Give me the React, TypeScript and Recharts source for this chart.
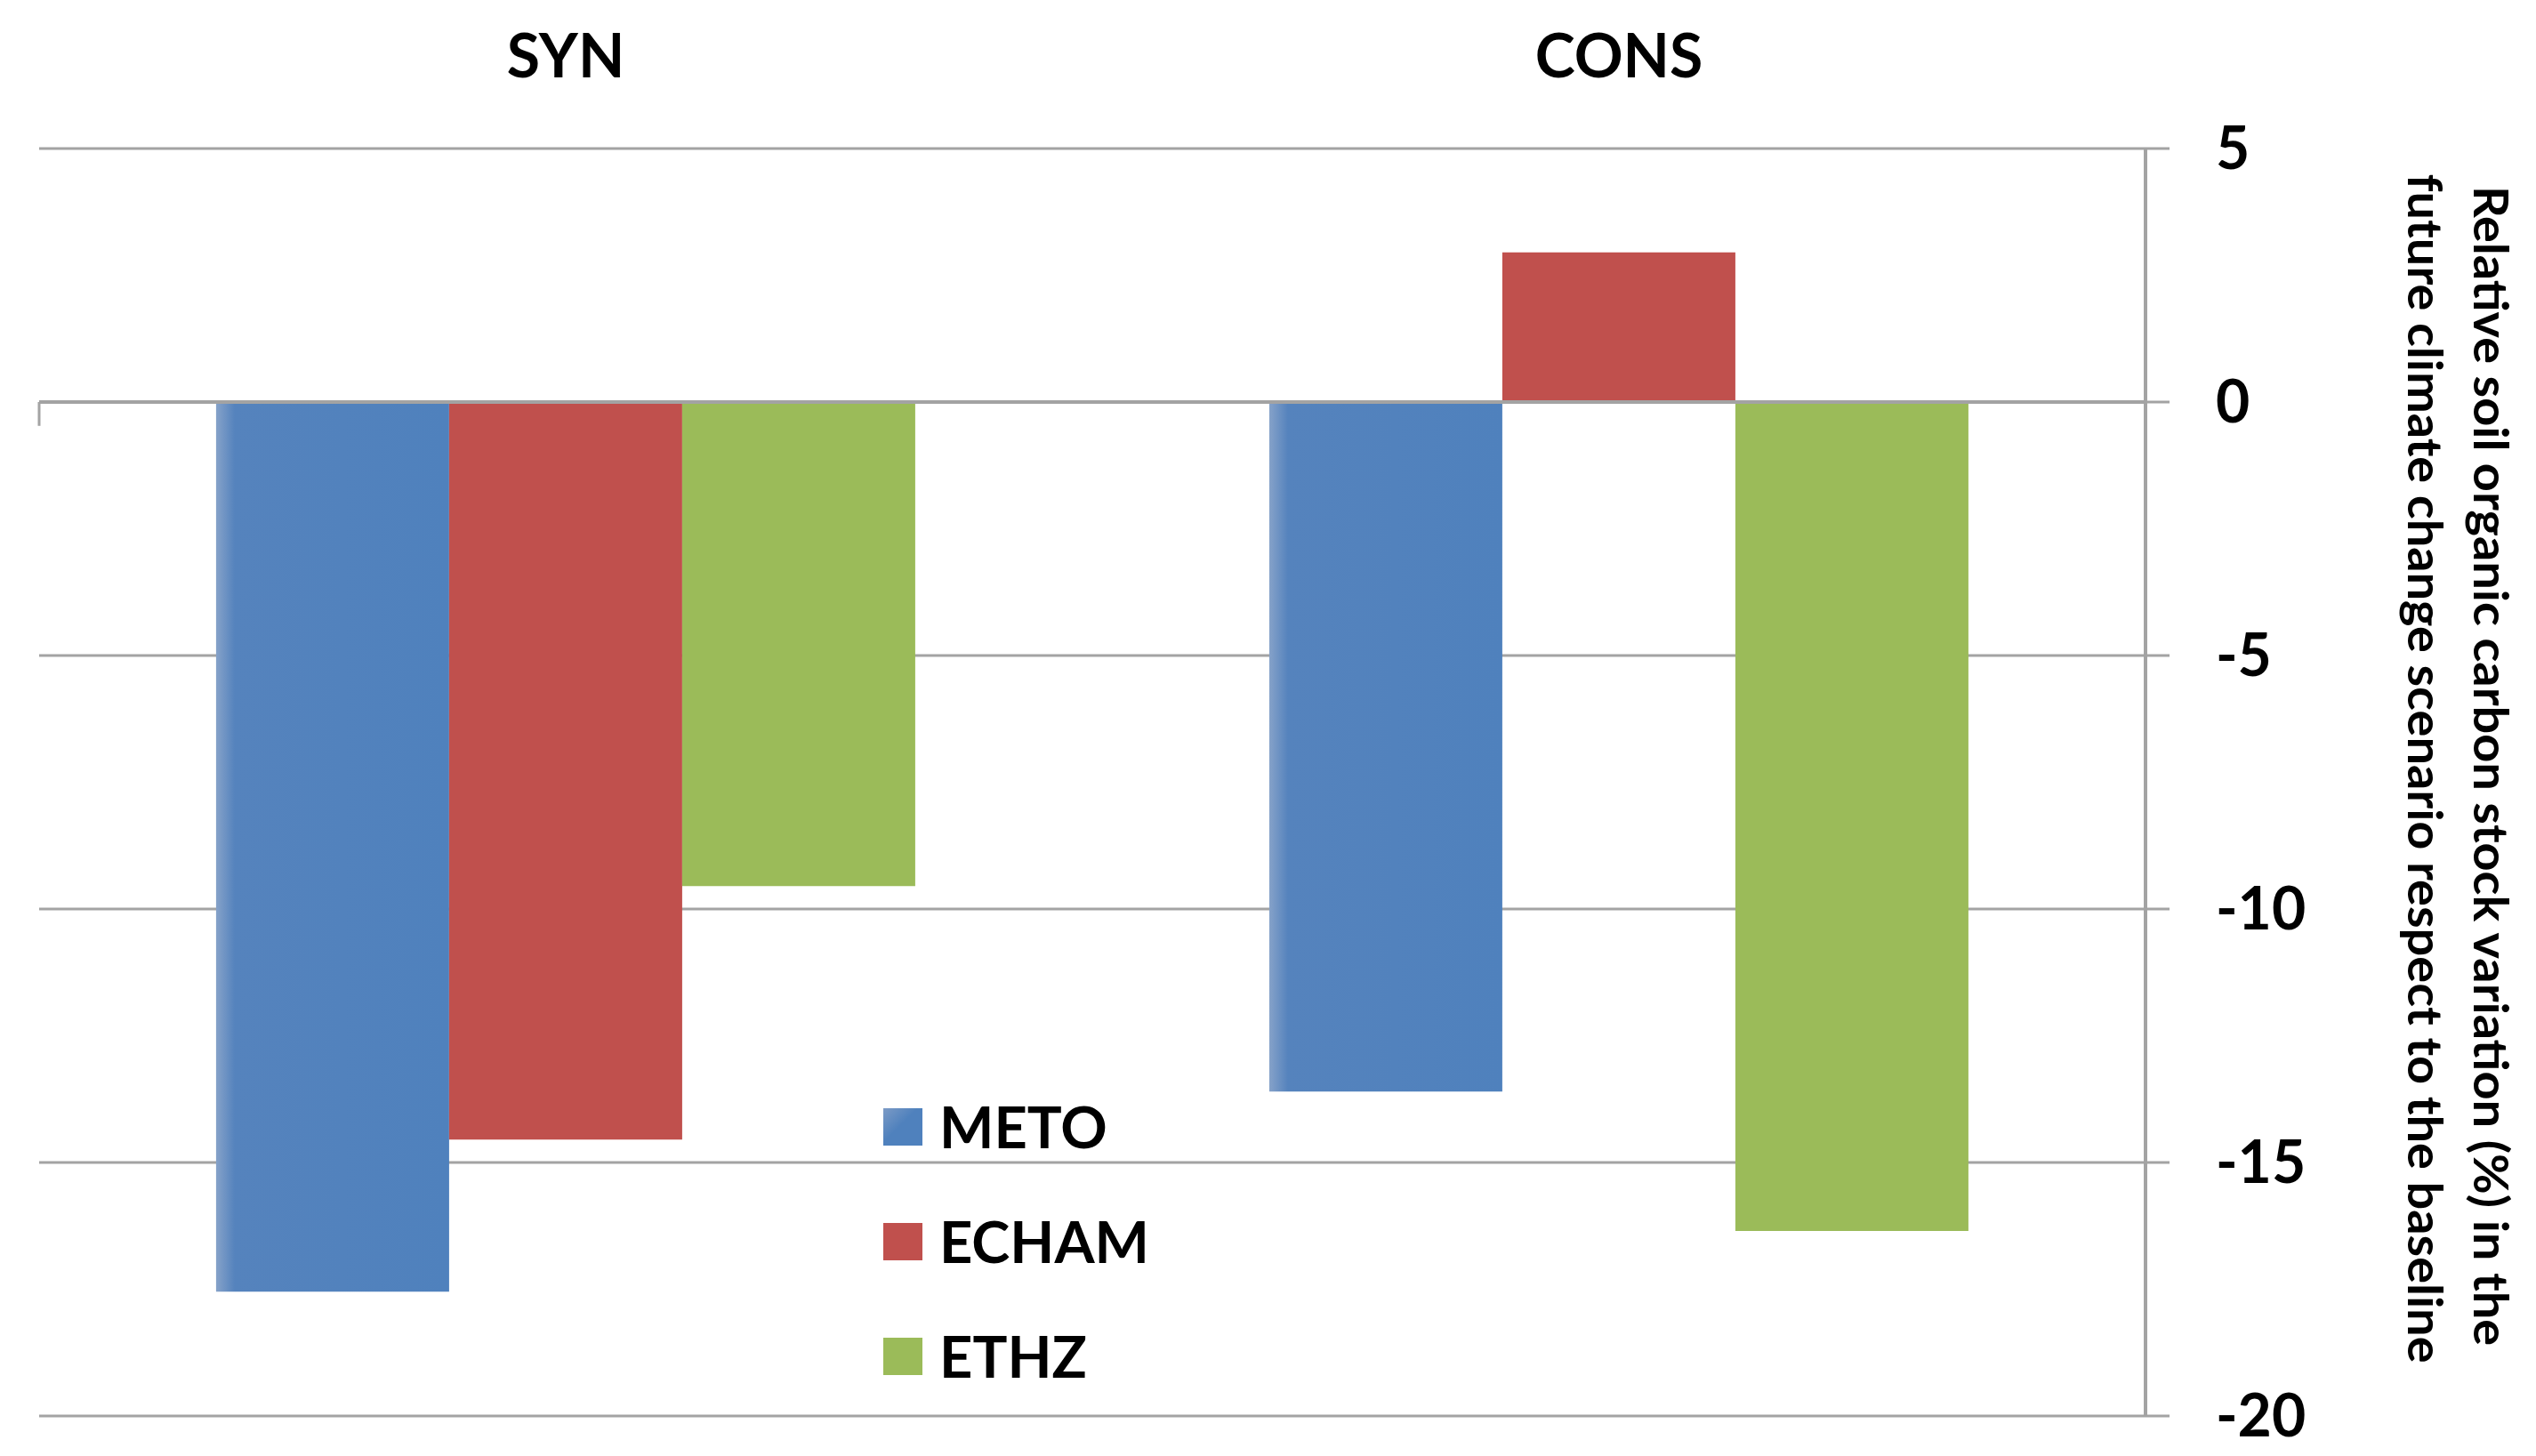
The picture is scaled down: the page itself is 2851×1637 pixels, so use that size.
import React from 'react';
import { BarChart, Bar, XAxis, YAxis, CartesianGrid, ReferenceLine, Legend } from 'recharts';

const categories = ['SYN', 'CONS'];
const seriesNames = ['METO', 'ECHAM', 'ETHZ'];
const seriesColors = ['#4F81BD', '#C0504D', '#9BBB59'];
const metoValues = [-17.55, -13.6];
const echamValues = [-14.55, 2.95];
const ethzValues = [-9.55, -16.35];
const yTicks = [5, 0, -5, -10, -15, -20];
const yDomain = [-20, 5];
const titleLines = [
  'Relative soil organic carbon stock variation (%) in the',
  'future climate change scenario respect to the baseline',
];

const data = categories.map((c, i) => ({
  name: c,
  METO: metoValues[i],
  ECHAM: echamValues[i],
  ETHZ: ethzValues[i],
}));

const W = 2851;
const H = 1637;
const GRID = '#a3a3a3';
const FONT = 'Lato, "Open Sans", sans-serif';
const CAT_TICK_DEPTH = 0.47; // in value units, category separator ticks below zero line

const XTick = (props: any) => {
  const { x, y, payload } = props;
  return (
    <text x={x} y={y - 80} textAnchor="middle" fontSize={68} fontWeight={700} fill="#000" fontFamily={FONT}>
      {payload.value}
    </text>
  );
};

const LegendContent = () => (
  <div style={{ fontFamily: FONT }}>
    {seriesNames.map((n, i) => (
      <div key={n} style={{ display: 'flex', alignItems: 'center', height: 129 }}>
        <div style={{ width: 44, height: 42, background: i === 0 ? 'linear-gradient(135deg, #7c9bc6 0%, #4F81BD 45%)' : seriesColors[i] }} />
        <span style={{ marginLeft: 19, fontSize: 65, fontWeight: 700, color: '#000', lineHeight: 1 }}>{n}</span>
      </div>
    ))}
  </div>
);

export default function App() {
  return (
    <div style={{ position: 'absolute', left: 0, top: 0, width: W, height: H, overflow: 'hidden', background: '#fff', fontFamily: FONT }}>
      <BarChart
        width={W}
        height={H}
        data={data}
        margin={{ top: 0, right: 0, bottom: 45, left: 44 }}
        barCategoryGap="16.8%"
        barGap={0}
      >
        <defs>
          <linearGradient id="metoGrad" x1="0" y1="0" x2="1" y2="0">
            <stop offset="0%" stopColor="#86a2c9" />
            <stop offset="8%" stopColor="#5583bd" />
            <stop offset="100%" stopColor="#4F81BD" />
          </linearGradient>
        </defs>
        <CartesianGrid horizontal vertical={false} stroke={GRID} strokeWidth={3} />
        <XAxis
          dataKey="name"
          orientation="top"
          height={167}
          axisLine={false}
          tickLine={false}
          tickSize={0}
          tickMargin={0}
          tick={<XTick />}
        />
        <XAxis xAxisId="n" type="number" domain={[0, 2]} hide />
        <YAxis
          orientation="right"
          width={439}
          domain={yDomain}
          ticks={yTicks}
          interval={0}
          axisLine={{ stroke: GRID, strokeWidth: 4 }}
          tickLine={{ stroke: GRID, strokeWidth: 3 }}
          tickSize={27}
          tickMargin={52}
          tick={{ fill: '#000', fontSize: 66, fontWeight: 700, fontFamily: FONT }}
        />
        {seriesNames.map((n, i) => (
          <Bar key={n} dataKey={n} fill={i === 0 ? 'url(#metoGrad)' : seriesColors[i]} isAnimationActive={false} />
        ))}
        <ReferenceLine y={0} stroke={GRID} strokeWidth={4} />
        {[0, 1, 2].map((b) => (
          <ReferenceLine
            key={b}
            xAxisId="n"
            segment={[{ x: b, y: 0 }, { x: b, y: -CAT_TICK_DEPTH }]}
            stroke={GRID}
            strokeWidth={3}
          />
        ))}
        <Legend
          layout="vertical"
          align="center"
          verticalAlign="middle"
          content={<LegendContent />}
          wrapperStyle={{ left: 993, top: 1202, width: 'auto', height: 'auto' }}
        />
      </BarChart>
      <svg width={W} height={H} style={{ position: 'absolute', left: 0, top: 0, pointerEvents: 'none' }}>
        <text
          x={2781}
          y={861}
          transform="rotate(90 2781 861)"
          textAnchor="middle"
          fontSize={54}
          fontWeight={700}
          fontFamily={FONT}
          fill="#000"
          textLength={1304}
          lengthAdjust="spacingAndGlyphs"
        >
          {titleLines[0]}
        </text>
        <text
          x={2707}
          y={864}
          transform="rotate(90 2707 864)"
          textAnchor="middle"
          fontSize={54}
          fontWeight={700}
          fontFamily={FONT}
          fill="#000"
          textLength={1337}
          lengthAdjust="spacingAndGlyphs"
        >
          {titleLines[1]}
        </text>
      </svg>
    </div>
  );
}
